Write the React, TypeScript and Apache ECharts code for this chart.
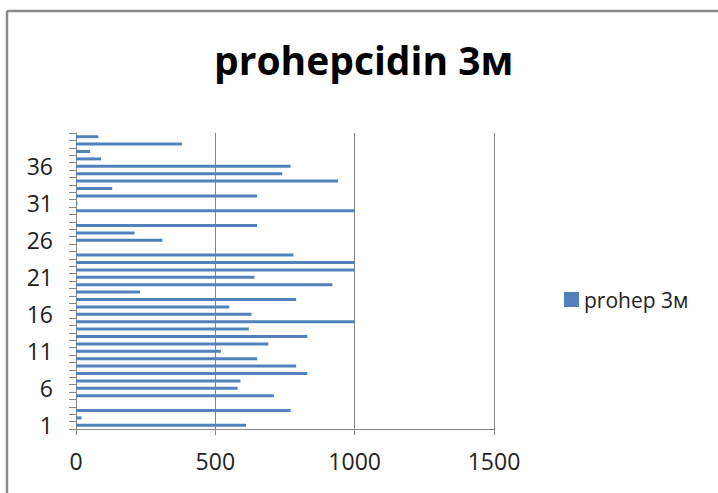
import React, { useEffect, useRef } from "react";
import * as echarts from "echarts";

// Sample numbers 1..40 shown on the vertical axis
const categories: string[] = [
  "1", "2", "3", "4", "5", "6", "7", "8", "9", "10",
  "11", "12", "13", "14", "15", "16", "17", "18", "19", "20",
  "21", "22", "23", "24", "25", "26", "27", "28", "29", "30",
  "31", "32", "33", "34", "35", "36", "37", "38", "39", "40",
];

// prohepcidin values at 3 months (empty where no measurement)
const prohep3m: (number | null)[] = [
  610, 20, 770, null, 710, 580, 590, 830, 790, 650,
  520, 690, 830, 620, 1000, 630, 550, 790, 230, 920,
  640, 1000, 1000, 780, null, 310, 210, 650, null, 1000,
  5, 650, 130, 940, 740, 770, 90, 50, 380, 80,
];

const xTicks = { min: 0, max: 1500, interval: 500 };

const titleText = "prohepcidin 3м";
const seriesName = "prohep 3м";

const FONT = "'Open Sans', 'Liberation Sans', sans-serif";
const GRAY = "#868686";

export default function App() {
  const ref = useRef<HTMLDivElement>(null);

  useEffect(() => {
    if (!ref.current) return;
    const chart = echarts.init(ref.current, undefined, { renderer: "svg" });
    chart.setOption({
      animation: false,
      backgroundColor: "#ffffff",
      title: {
        text: titleText,
        left: 209,
        top: 35,
        textStyle: {
          fontFamily: FONT,
          fontSize: 39,
          fontWeight: "bold",
          color: "#000000",
        },
      },
      graphic: [
        {
          type: "line",
          shape: { x1: 7, y1: 11, x2: 718, y2: 11 },
          style: { stroke: "#8a8a8a", lineWidth: 2.5 },
        },
        {
          type: "line",
          shape: { x1: 7, y1: 11, x2: 7, y2: 493 },
          style: { stroke: "#8a8a8a", lineWidth: 2.5 },
        },
      ],
      legend: {
        left: 559,
        top: 284,
        icon: "rect",
        itemWidth: 15,
        itemHeight: 15,
        itemGap: 8,
        textStyle: { fontFamily: FONT, fontSize: 21, color: "#222222" },
        data: [seriesName],
      },
      grid: { left: 76, right: 224, top: 133, bottom: 64, containLabel: false },
      xAxis: {
        type: "value",
        min: xTicks.min,
        max: xTicks.max,
        interval: xTicks.interval,
        axisLine: { show: true, lineStyle: { color: GRAY, width: 1 } },
        axisTick: { show: true, length: 6, lineStyle: { color: GRAY } },
        splitLine: { show: true, lineStyle: { color: GRAY, width: 1 } },
        axisLabel: {
          margin: 20,
          fontFamily: FONT,
          fontSize: 23,
          color: "#222222",
          formatter: (v: number) => String(v),
        },
      },
      yAxis: {
        type: "category",
        data: categories,
        axisLine: { show: true, lineStyle: { color: GRAY, width: 1 } },
        axisTick: {
          show: true,
          length: 7,
          interval: 0,
          alignWithLabel: false,
          lineStyle: { color: GRAY },
        },
        axisLabel: {
          interval: 4,
          margin: 23,
          fontFamily: FONT,
          fontSize: 23,
          color: "#222222",
        },
        splitLine: { show: false },
      },
      series: [
        {
          name: seriesName,
          type: "bar",
          data: prohep3m,
          barCategoryGap: "60%",
          itemStyle: { color: "#4F81BD" },
        },
      ],
    });
    return () => chart.dispose();
  }, []);

  return (
    <div
      ref={ref}
      style={{ position: "fixed", left: 0, top: 0, width: 718, height: 493 }}
    />
  );
}
